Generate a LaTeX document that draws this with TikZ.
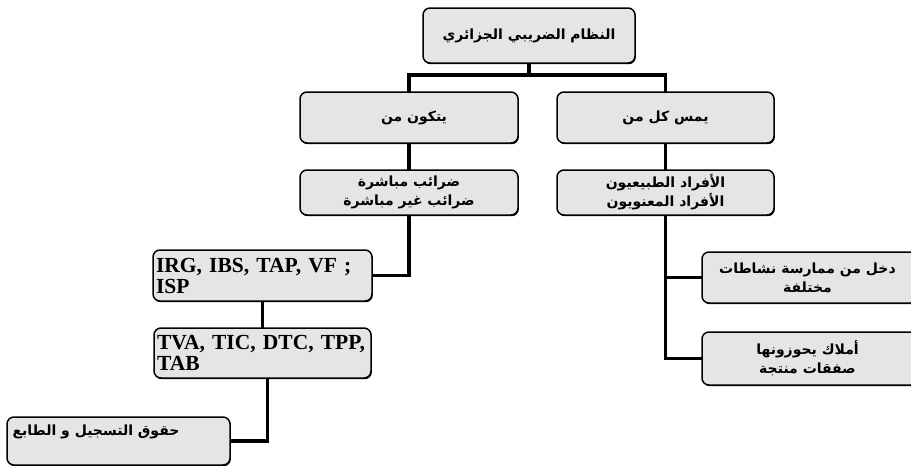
\documentclass[tikz,border=0pt]{standalone}
\usepackage{fontspec}
\setmainfont{Liberation Serif}
\newfontfamily\arabicfont[Script=Arabic]{DejaVu Sans}
\TeXXeTstate=1
\usetikzlibrary{shadows}
\tikzset{
  box/.style={draw=black, line width=1.5pt, rounded corners=7pt, fill=gray!20,
    drop shadow={shadow xshift=0.8pt, shadow yshift=-1.2pt, fill=black, opacity=1},
    inner sep=3pt, outer sep=0pt},
  link/.style={line width=3.8pt, black},
  ar/.style={font=\arabicfont\bfseries\fontsize{14}{19}\selectfont, align=center},
  lat/.style={font=\bfseries\fontsize{21.5}{21}\selectfont, align=left},
}
\begin{document}
\begin{tikzpicture}[x=1pt,y=-1pt]
\useasboundingbox (0,0) rectangle (911,466);
\clip (0,0) rectangle (911,466);
\coordinate (bar) at (0,75);
% boxes
\node[box, ar, minimum width=212pt, minimum height=55pt] (top) at (529,35.5) {\beginR النظام الضريبي الجزائري\endR};
\node[box, ar, minimum width=218pt, minimum height=51pt] (L1) at (409,117.5) {\hspace*{10pt}\beginR يتكون من\endR};
\node[box, ar, minimum width=217pt, minimum height=51pt] (R1) at (665.5,117.5) {\beginR يمس كل من\endR};
\node[box, ar, minimum width=218pt, minimum height=45pt] (L2) at (409,192.5) {\beginR ضرائب مباشرة\endR\\\beginR ضرائب غير مباشرة\endR};
\node[box, ar, minimum width=217pt, minimum height=45pt] (R2) at (665.5,192.5) {\beginR الأفراد الطبيعيون\endR\\\beginR الأفراد المعنويون\endR};
\node[box, lat, minimum width=219pt, minimum height=51pt, text width=213pt] (IRG) at (262.5,275.5) {IRG, IBS, TAP, VF ;\\ISP};
\node[box, lat, minimum width=217pt, minimum height=50pt, text width=211pt] (TVA) at (262.5,353) {TVA, TIC, DTC, TPP,\\TAB};
\node[box, minimum width=223pt, minimum height=48pt] (HQ) at (118.5,441) {};
\node[ar, anchor=center] (HQt) at (96,432) {\beginR حقوق التسجيل و الطابع\endR};
\node[box, ar, minimum width=223pt, minimum height=51pt] (D1) at (813.5,277.5) {\hspace*{-12pt}\beginR دخل من ممارسة نشاطات\endR\\\hspace*{-12pt}\beginR مختلفة\endR};
\node[box, ar, minimum width=223pt, minimum height=53pt] (D2) at (813.5,358.5) {\hspace*{-12pt}\beginR أملاك يحوزونها\endR\\\hspace*{-12pt}\beginR صفقات منتجة\endR};
% connectors
\draw[link] (top.south) -- (top.south |- bar);
\draw[link] (L1.north) -- (L1.north |- bar) -- (R1.north |- bar) -- (R1.north);
\draw[link] (L1.south) -- (L2.north);
\draw[link] (R1.south) -- (R2.north);
\draw[link] (L2.south) -- (L2.south |- IRG.east) -- (IRG.east);
\draw[link] (IRG.south) -- (TVA.north);
\draw[link] ([xshift=5pt]TVA.south) -- ([xshift=5pt]TVA.south |- HQ.east) -- (HQ.east);
\draw[link] (R2.south) -- (R2.south |- D2.west) -- (D2.west);
\draw[link] (R2.south |- D1.west) -- (D1.west);
\end{tikzpicture}
\end{document}
